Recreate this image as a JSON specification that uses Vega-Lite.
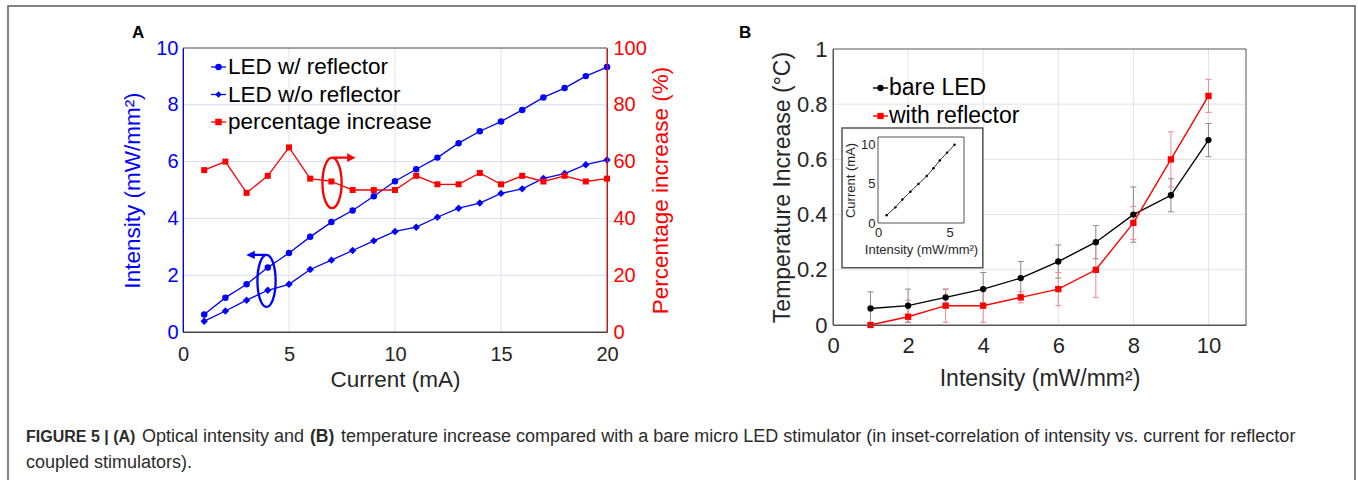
{
"$schema":"https://vega.github.io/schema/vega-lite/v6.json",
"width":1358,"height":480,"autosize":{"type":"none"},"padding":0,"background":"white",
"config":{"view":{"stroke":null},"font":"Liberation Sans","axis":{"ticks":false,"grid":false,"labelFont":"Liberation Sans","titleFont":"Liberation Sans","titleFontWeight":"normal","zindex":1,"labelFlush":false,"labelOverlap":false,"domainColor":"#444444","labelColor":"#262626","titleColor":"#262626"},"text":{"font":"Liberation Sans"}},
"datasets":{
"A_int":[
{"current":1,"series":"LED w/ reflector","value":0.62},{"current":2,"series":"LED w/ reflector","value":1.21},{"current":3,"series":"LED w/ reflector","value":1.68},{"current":4,"series":"LED w/ reflector","value":2.27},{"current":5,"series":"LED w/ reflector","value":2.78},{"current":6,"series":"LED w/ reflector","value":3.35},{"current":7,"series":"LED w/ reflector","value":3.87},{"current":8,"series":"LED w/ reflector","value":4.28},{"current":9,"series":"LED w/ reflector","value":4.78},{"current":10,"series":"LED w/ reflector","value":5.31},{"current":11,"series":"LED w/ reflector","value":5.73},{"current":12,"series":"LED w/ reflector","value":6.14},{"current":13,"series":"LED w/ reflector","value":6.65},{"current":14,"series":"LED w/ reflector","value":7.07},{"current":15,"series":"LED w/ reflector","value":7.41},{"current":16,"series":"LED w/ reflector","value":7.82},{"current":17,"series":"LED w/ reflector","value":8.26},{"current":18,"series":"LED w/ reflector","value":8.59},{"current":19,"series":"LED w/ reflector","value":9.01},{"current":20,"series":"LED w/ reflector","value":9.33},
{"current":1,"series":"LED w/o reflector","value":0.38},{"current":2,"series":"LED w/o reflector","value":0.74},{"current":3,"series":"LED w/o reflector","value":1.12},{"current":4,"series":"LED w/o reflector","value":1.47},{"current":5,"series":"LED w/o reflector","value":1.68},{"current":6,"series":"LED w/o reflector","value":2.2},{"current":7,"series":"LED w/o reflector","value":2.53},{"current":8,"series":"LED w/o reflector","value":2.87},{"current":9,"series":"LED w/o reflector","value":3.21},{"current":10,"series":"LED w/o reflector","value":3.54},{"current":11,"series":"LED w/o reflector","value":3.69},{"current":12,"series":"LED w/o reflector","value":4.04},{"current":13,"series":"LED w/o reflector","value":4.36},{"current":14,"series":"LED w/o reflector","value":4.54},{"current":15,"series":"LED w/o reflector","value":4.88},{"current":16,"series":"LED w/o reflector","value":5.04},{"current":17,"series":"LED w/o reflector","value":5.41},{"current":18,"series":"LED w/o reflector","value":5.58},{"current":19,"series":"LED w/o reflector","value":5.89},{"current":20,"series":"LED w/o reflector","value":6.06}],
"A_pct":[
{"current":1,"pct":57},{"current":2,"pct":60},{"current":3,"pct":49},{"current":4,"pct":55},{"current":5,"pct":65},{"current":6,"pct":54},{"current":7,"pct":53},{"current":8,"pct":50},{"current":9,"pct":50},{"current":10,"pct":50},{"current":11,"pct":55},{"current":12,"pct":52},{"current":13,"pct":52},{"current":14,"pct":56},{"current":15,"pct":52},{"current":16,"pct":55},{"current":17,"pct":53},{"current":18,"pct":55},{"current":19,"pct":53},{"current":20,"pct":54}],
"B":[
{"intensity":1,"series":"bare LED","temp":0.06,"lo":0.0,"hi":0.12},{"intensity":2,"series":"bare LED","temp":0.07,"lo":0.01,"hi":0.13},{"intensity":3,"series":"bare LED","temp":0.10,"lo":0.07,"hi":0.13},{"intensity":4,"series":"bare LED","temp":0.13,"lo":0.07,"hi":0.19},{"intensity":5,"series":"bare LED","temp":0.17,"lo":0.11,"hi":0.23},{"intensity":6,"series":"bare LED","temp":0.23,"lo":0.17,"hi":0.29},{"intensity":7,"series":"bare LED","temp":0.30,"lo":0.24,"hi":0.36},{"intensity":8,"series":"bare LED","temp":0.40,"lo":0.30,"hi":0.50},{"intensity":9,"series":"bare LED","temp":0.47,"lo":0.41,"hi":0.53},{"intensity":10,"series":"bare LED","temp":0.67,"lo":0.61,"hi":0.73},
{"intensity":1,"series":"with reflector","temp":0.0,"lo":0.0,"hi":0.0},{"intensity":2,"series":"with reflector","temp":0.03,"lo":0.01,"hi":0.09},{"intensity":3,"series":"with reflector","temp":0.07,"lo":0.01,"hi":0.13},{"intensity":4,"series":"with reflector","temp":0.07,"lo":0.01,"hi":0.13},{"intensity":5,"series":"with reflector","temp":0.10,"lo":0.08,"hi":0.12},{"intensity":6,"series":"with reflector","temp":0.13,"lo":0.07,"hi":0.19},{"intensity":7,"series":"with reflector","temp":0.20,"lo":0.10,"hi":0.30},{"intensity":8,"series":"with reflector","temp":0.37,"lo":0.31,"hi":0.43},{"intensity":9,"series":"with reflector","temp":0.60,"lo":0.50,"hi":0.70},{"intensity":10,"series":"with reflector","temp":0.83,"lo":0.77,"hi":0.89}],
"inset":[
{"intensity":0.6,"current":1},{"intensity":1.21,"current":2},{"intensity":1.7,"current":3},{"intensity":2.26,"current":4},{"intensity":2.82,"current":5},{"intensity":3.4,"current":6},{"intensity":3.87,"current":7},{"intensity":4.31,"current":8},{"intensity":4.82,"current":9},{"intensity":5.34,"current":10}],
"cap1":[{"line":"1"}],
"cap2":[{"line":"2"}]
},
"layer":[
{"data":{"values":[{}]},"mark":{"type":"rect","filled":false,"color":"#5a5a5a","strokeWidth":1.5},
 "encoding":{"x":{"datum":0,"type":"quantitative","scale":{"domain":[0,1],"range":[8,1355]},"axis":null},"x2":{"datum":1},"y":{"datum":0,"type":"quantitative","scale":{"domain":[0,1],"range":[6,495]},"axis":null},"y2":{"datum":1}}},

{"data":{"values":[{"v":2},{"v":4},{"v":6},{"v":8}]},"mark":{"type":"rule","color":"#dadaf6","strokeWidth":1},
 "encoding":{"y":{"field":"v","type":"quantitative","scale":{"domain":[0,10],"range":[332,48],"nice":false,"zero":false},"axis":null},"x":{"datum":0,"type":"quantitative","scale":{"domain":[0,20],"range":[183,607],"nice":false,"zero":false},"axis":null},"x2":{"datum":20}}},
{"data":{"values":[{"v":5},{"v":10},{"v":15}]},"mark":{"type":"rule","color":"#e2e2e2","strokeWidth":1},
 "encoding":{"x":{"field":"v","type":"quantitative","scale":{"domain":[0,20],"range":[183,607],"nice":false,"zero":false},"axis":null},"y":{"datum":0,"type":"quantitative","scale":{"domain":[0,10],"range":[332,48],"nice":false,"zero":false},"axis":null},"y2":{"datum":10}}},
{"data":{"values":[{}]},"mark":{"type":"rect","filled":false,"color":"#444444","strokeWidth":1},
 "encoding":{"x":{"datum":0,"type":"quantitative","scale":{"domain":[0,20],"range":[183,607],"nice":false,"zero":false},"axis":null},"x2":{"datum":20},"y":{"datum":0,"type":"quantitative","scale":{"domain":[0,10],"range":[332,48],"nice":false,"zero":false},"axis":null},"y2":{"datum":10}}},

{"data":{"name":"A_int"},"mark":{"type":"line","color":"#0000ff","strokeWidth":1.3},
 "encoding":{"x":{"field":"current","type":"quantitative","scale":{"domain":[0,20],"range":[183,607],"nice":false,"zero":false},
   "axis":{"orient":"bottom","offset":-148,"zindex":2,"values":[0,5,10,15,20],"labelFontSize":20,"labelPadding":12,"title":"Current (mA)","titleFontSize":22.5,"titlePadding":4}},
  "y":{"field":"value","type":"quantitative","scale":{"domain":[0,10],"range":[332,48],"nice":false,"zero":false},
   "axis":{"orient":"left","offset":-183,"zindex":2,"values":[0,2,4,6,8,10],"labelFontSize":20,"labelPadding":5,"title":"Intensity (mW/mm²)","titleFontSize":22.5,"titlePadding":11,"domainColor":"#0000ff","labelColor":"#0000ff","titleColor":"#0000ff"}},
  "detail":{"field":"series"}}},
{"data":{"name":"A_int"},"transform":[{"filter":"datum.series === 'LED w/ reflector'"}],"mark":{"type":"point","shape":"circle","filled":true,"size":42,"opacity":1,"color":"#0000ff"},
 "encoding":{"x":{"field":"current","type":"quantitative","scale":{"domain":[0,20],"range":[183,607],"nice":false,"zero":false},"axis":null},"y":{"field":"value","type":"quantitative","scale":{"domain":[0,10],"range":[332,48],"nice":false,"zero":false},"axis":null}}},
{"data":{"name":"A_int"},"transform":[{"filter":"datum.series === 'LED w/o reflector'"}],"mark":{"type":"point","shape":"diamond","filled":true,"size":55,"opacity":1,"color":"#0000ff"},
 "encoding":{"x":{"field":"current","type":"quantitative","scale":{"domain":[0,20],"range":[183,607],"nice":false,"zero":false},"axis":null},"y":{"field":"value","type":"quantitative","scale":{"domain":[0,10],"range":[332,48],"nice":false,"zero":false},"axis":null}}},
{"data":{"name":"A_pct"},"mark":{"type":"line","color":"#ff0000","strokeWidth":1.3},
 "encoding":{"x":{"field":"current","type":"quantitative","scale":{"domain":[0,20],"range":[183,607],"nice":false,"zero":false},"axis":null},
  "y":{"field":"pct","type":"quantitative","scale":{"domain":[0,100],"range":[332,48],"nice":false,"zero":false},
   "axis":{"orient":"right","offset":-751,"zindex":2,"values":[0,20,40,60,80,100],"labelFontSize":20,"labelPadding":6,"title":"Percentage increase (%)","titleFontSize":22.5,"titlePadding":3,"titleAngle":270,"titleBaseline":"top","domainColor":"#ff0000","labelColor":"#ff0000","titleColor":"#ff0000"}}}},
{"data":{"name":"A_pct"},"mark":{"type":"point","shape":"square","filled":true,"size":36,"opacity":1,"color":"#ff0000"},
 "encoding":{"x":{"field":"current","type":"quantitative","scale":{"domain":[0,20],"range":[183,607],"nice":false,"zero":false},"axis":null},"y":{"field":"pct","type":"quantitative","scale":{"domain":[0,100],"range":[332,48],"nice":false,"zero":false},"axis":null}}},

{"data":{"values":[{}]},"mark":{"type":"point","shape":"M-0.38,0A0.38,1,0,1,0,0.38,0A0.38,1,0,1,0,-0.38,0M0,-1L0.66,-1","filled":false,"size":2550,"opacity":1,"color":"#ff0000","strokeWidth":2.3},
 "encoding":{"x":{"datum":7.03,"type":"quantitative","scale":{"domain":[0,20],"range":[183,607],"nice":false,"zero":false},"axis":null},"y":{"datum":5.25,"type":"quantitative","scale":{"domain":[0,10],"range":[332,48],"nice":false,"zero":false},"axis":null}}},
{"data":{"values":[{}]},"mark":{"type":"point","shape":"M0.6,-1.17L0.93,-1L0.6,-0.83Z","filled":true,"size":2550,"opacity":1,"color":"#ff0000"},
 "encoding":{"x":{"datum":7.03,"type":"quantitative","scale":{"domain":[0,20],"range":[183,607],"nice":false,"zero":false},"axis":null},"y":{"datum":5.25,"type":"quantitative","scale":{"domain":[0,10],"range":[332,48],"nice":false,"zero":false},"axis":null}}},
{"data":{"values":[{}]},"mark":{"type":"point","shape":"M-0.35,0A0.35,1,0,1,0,0.35,0A0.35,1,0,1,0,-0.35,0M0,-1L-0.5,-1","filled":false,"size":2704,"opacity":1,"color":"#0000ff","strokeWidth":2.3},
 "encoding":{"x":{"datum":3.94,"type":"quantitative","scale":{"domain":[0,20],"range":[183,607],"nice":false,"zero":false},"axis":null},"y":{"datum":1.8,"type":"quantitative","scale":{"domain":[0,10],"range":[332,48],"nice":false,"zero":false},"axis":null}}},
{"data":{"values":[{}]},"mark":{"type":"point","shape":"M-0.45,-1.16L-0.78,-1L-0.45,-0.84Z","filled":true,"size":2704,"opacity":1,"color":"#0000ff"},
 "encoding":{"x":{"datum":3.94,"type":"quantitative","scale":{"domain":[0,20],"range":[183,607],"nice":false,"zero":false},"axis":null},"y":{"datum":1.8,"type":"quantitative","scale":{"domain":[0,10],"range":[332,48],"nice":false,"zero":false},"axis":null}}},

{"data":{"values":[{"series":"LED w/ reflector"},{"series":"LED w/o reflector"},{"series":"percentage increase"}]},"mark":{"type":"rule","strokeWidth":1.3},
 "encoding":{"x":{"datum":0,"type":"quantitative","scale":{"domain":[0,1],"range":[211,226]},"axis":null},"x2":{"datum":1},
  "y":{"field":"series","type":"nominal","scale":{"type":"point","domain":["LED w/ reflector","LED w/o reflector","percentage increase"],"range":[67,122],"padding":0},"axis":null},
  "color":{"field":"series","type":"nominal","scale":{"domain":["LED w/ reflector","LED w/o reflector","percentage increase"],"range":["#0000ff","#0000ff","#ff0000"]},"legend":null}}},
{"data":{"values":[{"series":"LED w/ reflector"},{"series":"LED w/o reflector"},{"series":"percentage increase"}]},"mark":{"type":"point","filled":true,"size":42,"opacity":1},
 "encoding":{"x":{"datum":0.5,"type":"quantitative","scale":{"domain":[0,1],"range":[211,226]},"axis":null},
  "y":{"field":"series","type":"nominal","scale":{"type":"point","domain":["LED w/ reflector","LED w/o reflector","percentage increase"],"range":[67,122],"padding":0},"axis":null},
  "color":{"field":"series","type":"nominal","scale":{"domain":["LED w/ reflector","LED w/o reflector","percentage increase"],"range":["#0000ff","#0000ff","#ff0000"]},"legend":null},
  "shape":{"field":"series","type":"nominal","scale":{"domain":["LED w/ reflector","LED w/o reflector","percentage increase"],"range":["circle","diamond","square"]},"legend":null}}},
{"data":{"values":[{"series":"LED w/ reflector"},{"series":"LED w/o reflector"},{"series":"percentage increase"}]},"mark":{"type":"text","align":"left","baseline":"middle","dx":2,"fontSize":22.5,"color":"#000000"},
 "encoding":{"x":{"datum":1,"type":"quantitative","scale":{"domain":[0,1],"range":[211,226]},"axis":null},
  "y":{"field":"series","type":"nominal","scale":{"type":"point","domain":["LED w/ reflector","LED w/o reflector","percentage increase"],"range":[67,122],"padding":0},"axis":null},
  "text":{"field":"series"}}},
{"data":{"values":[{"label":"A"}]},"mark":{"type":"text","align":"center","baseline":"middle","fontSize":17,"fontWeight":"bold","color":"#000000"},
 "encoding":{"x":{"datum":-2.12,"type":"quantitative","scale":{"domain":[0,20],"range":[183,607],"nice":false,"zero":false},"axis":null},"y":{"datum":10.53,"type":"quantitative","scale":{"domain":[0,10],"range":[332,48],"nice":false,"zero":false},"axis":null},"text":{"field":"label"}}},

{"data":{"values":[{"v":0.2},{"v":0.4},{"v":0.6},{"v":0.8}]},"mark":{"type":"rule","color":"#e4e4e4","strokeWidth":1},
 "encoding":{"y":{"field":"v","type":"quantitative","scale":{"domain":[0,1],"range":[325,49],"nice":false,"zero":false},"axis":null},"x":{"datum":0,"type":"quantitative","scale":{"domain":[0,11],"range":[833,1246],"nice":false,"zero":false},"axis":null},"x2":{"datum":11}}},
{"data":{"values":[{"v":2},{"v":4},{"v":6},{"v":8},{"v":10}]},"mark":{"type":"rule","color":"#e4e4e4","strokeWidth":1},
 "encoding":{"x":{"field":"v","type":"quantitative","scale":{"domain":[0,11],"range":[833,1246],"nice":false,"zero":false},"axis":null},"y":{"datum":0,"type":"quantitative","scale":{"domain":[0,1],"range":[325,49],"nice":false,"zero":false},"axis":null},"y2":{"datum":1}}},
{"data":{"values":[{}]},"mark":{"type":"rect","filled":false,"color":"#555555","strokeWidth":1},
 "encoding":{"x":{"datum":0,"type":"quantitative","scale":{"domain":[0,11],"range":[833,1246],"nice":false,"zero":false},"axis":null},"x2":{"datum":11},"y":{"datum":0,"type":"quantitative","scale":{"domain":[0,1],"range":[325,49],"nice":false,"zero":false},"axis":null},"y2":{"datum":1}}},
{"data":{"name":"B"},"mark":{"type":"rule","strokeWidth":1},
 "encoding":{"x":{"field":"intensity","type":"quantitative","scale":{"domain":[0,11],"range":[833,1246],"nice":false,"zero":false},"axis":null},"y":{"field":"lo","type":"quantitative","scale":{"domain":[0,1],"range":[325,49],"nice":false,"zero":false},"axis":null},"y2":{"field":"hi"},
  "color":{"field":"series","type":"nominal","scale":{"domain":["bare LED","with reflector"],"range":["#8a8a8a","#f08a8a"]},"legend":null}}},
{"data":{"name":"B"},"mark":{"type":"point","shape":"M-1,0L1,0","filled":false,"size":36,"opacity":1,"strokeWidth":1},
 "encoding":{"x":{"field":"intensity","type":"quantitative","scale":{"domain":[0,11],"range":[833,1246],"nice":false,"zero":false},"axis":null},"y":{"field":"lo","type":"quantitative","scale":{"domain":[0,1],"range":[325,49],"nice":false,"zero":false},"axis":null},
  "color":{"field":"series","type":"nominal","scale":{"domain":["bare LED","with reflector"],"range":["#8a8a8a","#f08a8a"]},"legend":null}}},
{"data":{"name":"B"},"mark":{"type":"point","shape":"M-1,0L1,0","filled":false,"size":36,"opacity":1,"strokeWidth":1},
 "encoding":{"x":{"field":"intensity","type":"quantitative","scale":{"domain":[0,11],"range":[833,1246],"nice":false,"zero":false},"axis":null},"y":{"field":"hi","type":"quantitative","scale":{"domain":[0,1],"range":[325,49],"nice":false,"zero":false},"axis":null},
  "color":{"field":"series","type":"nominal","scale":{"domain":["bare LED","with reflector"],"range":["#8a8a8a","#f08a8a"]},"legend":null}}},
{"data":{"name":"B"},"mark":{"type":"line","strokeWidth":1.4},
 "encoding":{"x":{"field":"intensity","type":"quantitative","scale":{"domain":[0,11],"range":[833,1246],"nice":false,"zero":false},
   "axis":{"orient":"bottom","offset":-155,"zindex":2,"values":[0,2,4,6,8,10],"labelFontSize":22,"labelPadding":10,"title":"Intensity (mW/mm²)","titleFontSize":23,"titlePadding":11,"domainColor":"#555555"}},
  "y":{"field":"temp","type":"quantitative","scale":{"domain":[0,1],"range":[325,49],"nice":false,"zero":false},
   "axis":{"orient":"left","offset":-833,"zindex":2,"values":[0,0.2,0.4,0.6,0.8,1],"format":"~g","labelFontSize":22,"labelPadding":6,"title":"Temperature Increase (°C)","titleFontSize":23,"titlePadding":2,"domainColor":"#555555"}},
  "color":{"field":"series","type":"nominal","scale":{"domain":["bare LED","with reflector"],"range":["#000000","#ff0000"]},"legend":null}}},
{"data":{"name":"B"},"mark":{"type":"point","filled":true,"size":40,"opacity":1},
 "encoding":{"x":{"field":"intensity","type":"quantitative","scale":{"domain":[0,11],"range":[833,1246],"nice":false,"zero":false},"axis":null},"y":{"field":"temp","type":"quantitative","scale":{"domain":[0,1],"range":[325,49],"nice":false,"zero":false},"axis":null},
  "color":{"field":"series","type":"nominal","scale":{"domain":["bare LED","with reflector"],"range":["#000000","#ff0000"]},"legend":null},
  "shape":{"field":"series","type":"nominal","scale":{"domain":["bare LED","with reflector"],"range":["circle","square"]},"legend":null}}},
{"data":{"values":[{"series":"bare LED"},{"series":"with reflector"}]},"mark":{"type":"rule","strokeWidth":1.4},
 "encoding":{"x":{"datum":0,"type":"quantitative","scale":{"domain":[0,1],"range":[873,888]},"axis":null},"x2":{"datum":1},
  "y":{"field":"series","type":"nominal","scale":{"type":"point","domain":["bare LED","with reflector"],"range":[88,116],"padding":0},"axis":null},
  "color":{"field":"series","type":"nominal","scale":{"domain":["bare LED","with reflector"],"range":["#000000","#ff0000"]},"legend":null}}},
{"data":{"values":[{"series":"bare LED"},{"series":"with reflector"}]},"mark":{"type":"point","filled":true,"size":40,"opacity":1},
 "encoding":{"x":{"datum":0.5,"type":"quantitative","scale":{"domain":[0,1],"range":[873,888]},"axis":null},
  "y":{"field":"series","type":"nominal","scale":{"type":"point","domain":["bare LED","with reflector"],"range":[88,116],"padding":0},"axis":null},
  "color":{"field":"series","type":"nominal","scale":{"domain":["bare LED","with reflector"],"range":["#000000","#ff0000"]},"legend":null},
  "shape":{"field":"series","type":"nominal","scale":{"domain":["bare LED","with reflector"],"range":["circle","square"]},"legend":null}}},
{"data":{"values":[{"series":"bare LED"},{"series":"with reflector"}]},"mark":{"type":"text","align":"left","baseline":"middle","dx":1,"fontSize":23,"color":"#000000"},
 "encoding":{"x":{"datum":1,"type":"quantitative","scale":{"domain":[0,1],"range":[873,888]},"axis":null},
  "y":{"field":"series","type":"nominal","scale":{"type":"point","domain":["bare LED","with reflector"],"range":[88,116],"padding":0},"axis":null},
  "text":{"field":"series"}}},
{"data":{"values":[{"label":"B"}]},"mark":{"type":"text","align":"center","baseline":"middle","fontSize":17,"fontWeight":"bold","color":"#000000"},
 "encoding":{"x":{"datum":-2.34,"type":"quantitative","scale":{"domain":[0,11],"range":[833,1246],"nice":false,"zero":false},"axis":null},"y":{"datum":1.058,"type":"quantitative","scale":{"domain":[0,1],"range":[325,49],"nice":false,"zero":false},"axis":null},"text":{"field":"label"}}},

{"data":{"values":[{}]},"mark":{"type":"rect","fill":"#ffffff","stroke":"#555555","strokeWidth":1.5},
 "encoding":{"x":{"datum":0.24,"type":"quantitative","scale":{"domain":[0,11],"range":[833,1246],"nice":false,"zero":false},"axis":null},"x2":{"datum":3.99},"y":{"datum":0.207,"type":"quantitative","scale":{"domain":[0,1],"range":[325,49],"nice":false,"zero":false},"axis":null},"y2":{"datum":0.714}}},
{"data":{"values":[{}]},"mark":{"type":"rect","filled":false,"color":"#555555","strokeWidth":1},
 "encoding":{"x":{"datum":0,"type":"quantitative","scale":{"domain":[0,6],"range":[878,964],"nice":false,"zero":false},"axis":null},"x2":{"datum":6},"y":{"datum":0,"type":"quantitative","scale":{"domain":[0,11],"range":[223,137],"nice":false,"zero":false},"axis":null},"y2":{"datum":11}}},
{"data":{"name":"inset"},"mark":{"type":"line","color":"#000000","strokeWidth":0.8},
 "encoding":{"x":{"field":"intensity","type":"quantitative","scale":{"domain":[0,6],"range":[878,964],"nice":false,"zero":false},
   "axis":{"orient":"bottom","offset":-257,"zindex":3,"values":[0,5],"labelFontSize":13,"labelPadding":3,"title":"Intensity (mW/mm²)","titleFontSize":13,"titlePadding":4,"domain":false}},
  "y":{"field":"current","type":"quantitative","scale":{"domain":[0,11],"range":[223,137],"nice":false,"zero":false},
   "axis":{"orient":"left","offset":-878,"zindex":3,"values":[0,5,10],"labelFontSize":13,"labelPadding":3,"title":"Current (mA)","titleFontSize":13,"titlePadding":3,"domain":false}}}},
{"data":{"name":"inset"},"mark":{"type":"point","filled":true,"size":6,"opacity":1,"color":"#000000"},
 "encoding":{"x":{"field":"intensity","type":"quantitative","scale":{"domain":[0,6],"range":[878,964],"nice":false,"zero":false},"axis":null},"y":{"field":"current","type":"quantitative","scale":{"domain":[0,11],"range":[223,137],"nice":false,"zero":false},"axis":null}}},

{"data":{"name":"cap1"},"mark":{"type":"text","align":"left","baseline":"middle","fontSize":16,"fontWeight":"bold","dx":3,"color":"#2b2b2b","text":"FIGURE 5 | (A)"},
 "encoding":{"x":{"datum":0,"type":"quantitative","scale":{"domain":[0,1],"range":[23,1340]},"axis":null},"y":{"field":"line","type":"nominal","scale":{"type":"point","domain":["1","2"],"range":[437,463],"padding":0},"axis":null}}},
{"data":{"name":"cap1"},"mark":{"type":"text","align":"left","baseline":"middle","fontSize":18,"dx":119,"color":"#2b2b2b","text":"Optical intensity and"},
 "encoding":{"x":{"datum":0,"type":"quantitative","scale":{"domain":[0,1],"range":[23,1340]},"axis":null},"y":{"field":"line","type":"nominal","scale":{"type":"point","domain":["1","2"],"range":[437,463],"padding":0},"axis":null}}},
{"data":{"name":"cap1"},"mark":{"type":"text","align":"left","baseline":"middle","fontSize":17.5,"fontWeight":"bold","dx":287,"color":"#2b2b2b","text":"(B)"},
 "encoding":{"x":{"datum":0,"type":"quantitative","scale":{"domain":[0,1],"range":[23,1340]},"axis":null},"y":{"field":"line","type":"nominal","scale":{"type":"point","domain":["1","2"],"range":[437,463],"padding":0},"axis":null}}},
{"data":{"name":"cap1"},"mark":{"type":"text","align":"left","baseline":"middle","fontSize":18,"dx":318,"color":"#2b2b2b","text":"temperature increase compared with a bare micro LED stimulator (in inset-correlation of intensity vs. current for reflector"},
 "encoding":{"x":{"datum":0,"type":"quantitative","scale":{"domain":[0,1],"range":[23,1340]},"axis":null},"y":{"field":"line","type":"nominal","scale":{"type":"point","domain":["1","2"],"range":[437,463],"padding":0},"axis":null}}},
{"data":{"name":"cap2"},"mark":{"type":"text","align":"left","baseline":"middle","fontSize":18,"dx":3,"color":"#2b2b2b","text":"coupled stimulators)."},
 "encoding":{"x":{"datum":0,"type":"quantitative","scale":{"domain":[0,1],"range":[23,1340]},"axis":null},"y":{"field":"line","type":"nominal","scale":{"type":"point","domain":["1","2"],"range":[437,463],"padding":0},"axis":null}}}
],
"resolve":{"scale":{"x":"independent","y":"independent","color":"independent","shape":"independent"},"axis":{"x":"independent","y":"independent"}}
}
